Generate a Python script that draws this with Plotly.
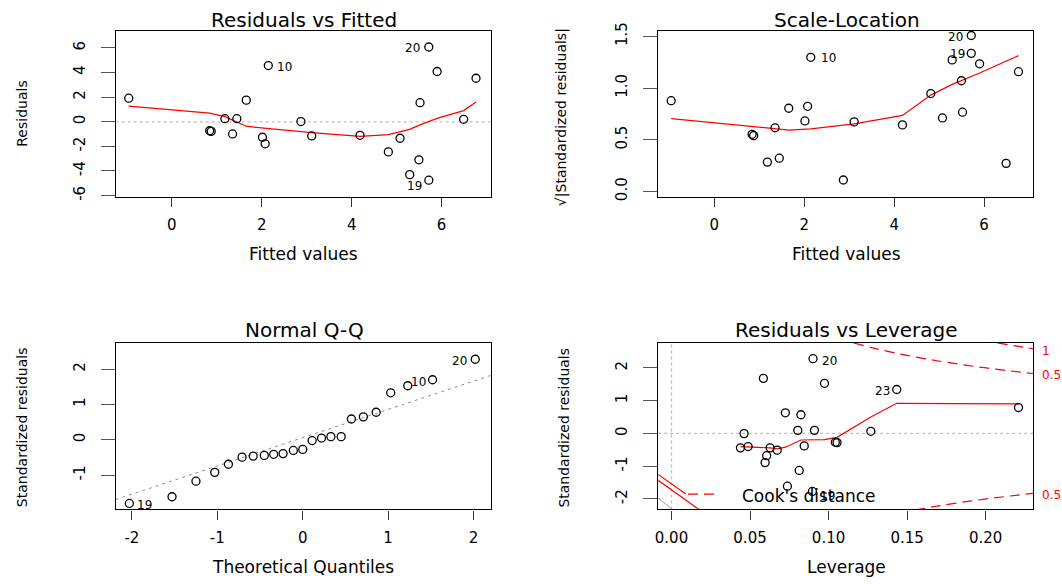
import plotly.graph_objects as go

W, H = 1062, 584
FONT = "DejaVu Sans"

# ---------------- data ----------------
# Residuals vs Fitted / Scale-Location (same observations, same order)
fitted = [-0.96, 2.145, 5.715, 5.90, 6.765, 1.655, 5.52, 1.18, 1.445, 2.87, 6.49, 0.84,
          0.875, 1.35, 2.015, 2.075, 3.11, 4.185, 5.075, 4.815, 5.495, 5.29, 5.715]
residuals = [1.92, 4.57, 6.08, 4.09, 3.54, 1.76, 1.55, 0.25, 0.25, 0.02, 0.20, -0.73,
             -0.78, -0.99, -1.26, -1.79, -1.15, -1.10, -1.34, -2.45, -3.09, -4.30, -4.75]
sqrt_abs_std_resid = [0.878, 1.298, 1.509, 1.235, 1.159, 0.805, 0.767, 0.284, 0.322, 0.111,
                      0.272, 0.553, 0.540, 0.616, 0.682, 0.824, 0.673, 0.644, 0.711, 0.947,
                      1.071, 1.273, 1.336]

rf_smooth_x = [-0.96, 0.84, 1.18, 1.655, 2.045, 3.11, 4.185, 4.815, 5.29, 5.52, 5.90, 6.49, 6.765]
rf_smooth_y = [1.28, 0.70, 0.42, -0.36, -0.52, -0.89, -1.18, -1.05, -0.62, -0.25, 0.28, 0.91, 1.60]

sl_smooth_x = [-0.96, 1.35, 1.655, 2.145, 3.11, 4.185, 4.815, 5.29, 5.52, 5.90, 6.765]
sl_smooth_y = [0.704, 0.603, 0.594, 0.606, 0.654, 0.736, 0.932, 1.036, 1.077, 1.146, 1.314]

# Normal Q-Q
qq_theoretical = [-2.03, -1.53, -1.25, -1.03, -0.87, -0.71, -0.58, -0.45, -0.34, -0.23, -0.11,
                  0.0, 0.11, 0.22, 0.33, 0.45, 0.57, 0.71, 0.86, 1.03, 1.23, 1.52, 2.02]
qq_sample = [-1.80, -1.61, -1.17, -0.92, -0.69, -0.49, -0.46, -0.44, -0.41, -0.39, -0.30,
             -0.27, -0.02, 0.05, 0.09, 0.09, 0.59, 0.65, 0.78, 1.33, 1.53, 1.70, 2.28]
qq_line_x = [-2.19, 2.20]
qq_line_y = [-1.69, 1.82]

# Residuals vs Leverage
leverage = [0.0462, 0.0439, 0.0488, 0.0585, 0.0628, 0.0673, 0.0606, 0.0596, 0.0725, 0.0824,
            0.0804, 0.0910, 0.0845, 0.0813, 0.0738, 0.0901, 0.0974, 0.0897, 0.1043, 0.1054,
            0.1269, 0.1434, 0.2209]
std_resid = [-0.005, -0.44, -0.40, 1.68, -0.44, -0.51, -0.68, -0.89, 0.63, 0.57, 0.094, 0.094,
             -0.38, -1.13, -1.61, 2.28, 1.53, -1.77, -0.27, -0.28, 0.065, 1.34, 0.79]
lev_smooth_x = [0.0439, 0.0488, 0.0628, 0.0673, 0.0725, 0.0824, 0.0974, 0.1054, 0.1269, 0.1434, 0.2209]
lev_smooth_y = [-0.40, -0.41, -0.44, -0.47, -0.42, -0.20, -0.19, -0.12, 0.50, 0.92, 0.90]

cook_h_upper05 = [0.116, 0.13, 0.15, 0.17, 0.19, 0.21, 0.2302]
cook_y_upper05 = [2.761, 2.587, 2.380, 2.210, 2.065, 1.940, 1.829]
cook_h_upper1 = [0.2075, 0.22, 0.2302]
cook_y_upper1 = [2.764, 2.663, 2.587]
cook_h_lower05 = [0.155, 0.17, 0.19, 0.21, 0.2302]
cook_y_lower05 = [-2.335, -2.210, -2.065, -1.940, -1.829]
legend_line_a_x = [-0.0085, 0.0091]
legend_line_a_y = [-1.25, -1.85]
legend_line_b_x = [-0.0085, 0.0175]
legend_line_b_y = [-1.43, -2.32]
legend_gray_x = [-0.0085, 0.0006]
legend_gray_y = [-1.97, -2.32]
legend_dash_x = [0.0105, 0.027]
legend_dash_y = [-1.85, -1.85]

# ranges
rf_xrange = [-1.25, 7.09]
rf_yrange = [-6.12, 7.42]
sl_yrange = [-0.054, 1.557]
qq_xrange = [-2.19, 2.20]
qq_yrange = [-1.97, 2.74]
lev_xrange = [-0.0085, 0.2302]
lev_yrange = [-2.32, 2.76]

# ---------------- layout helpers ----------------
def dx(l, r):
    return [l / W, r / W]

def dy(t, b):
    return [1 - b / H, 1 - t / H]

LEFT1, RIGHT1 = 113, 489
LEFT2, RIGHT2 = 657, 1033
TOP1, BOT1 = 23, 193
TOP2, BOT2 = 342, 512

def xaxis(domain, anchor, rng, tickvals, ticktext):
    return dict(domain=domain, anchor=anchor, range=rng, tickvals=tickvals, ticktext=ticktext,
                showline=True, mirror=True, linecolor="black", linewidth=1.3,
                ticks="outside", ticklen=9, tickwidth=1, tickcolor="#333",
                showgrid=False, zeroline=False, ticklabelstandoff=5,
                tickfont=dict(family=FONT, size=15, color="black"), fixedrange=True)

def yaxis(domain, anchor, rng, tickvals, ticktext):
    return dict(domain=domain, anchor=anchor, range=rng, tickvals=tickvals, ticktext=ticktext,
                showline=True, mirror=True, linecolor="black", linewidth=1.3,
                ticks="outside", ticklen=14, tickwidth=1, tickcolor="#555",
                showgrid=False, zeroline=False, tickangle=-90, ticklabelstandoff=10,
                tickfont=dict(family=FONT, size=15, color="black"), fixedrange=True)

fig = go.Figure()

pt_marker = dict(symbol="circle-open", size=8, color="black", line=dict(width=1.3, color="black"))
red_line = dict(color="#FF0000", width=1.2)

# Panel 1: Residuals vs Fitted
fig.add_trace(go.Scatter(x=rf_smooth_x, y=rf_smooth_y, mode="lines", line=red_line,
                         xaxis="x", yaxis="y", hoverinfo="skip"))
fig.add_trace(go.Scatter(x=fitted, y=residuals, mode="markers", marker=pt_marker,
                         xaxis="x", yaxis="y"))

# Panel 2: Scale-Location
fig.add_trace(go.Scatter(x=sl_smooth_x, y=sl_smooth_y, mode="lines", line=red_line,
                         xaxis="x2", yaxis="y2", hoverinfo="skip"))
fig.add_trace(go.Scatter(x=fitted, y=sqrt_abs_std_resid, mode="markers", marker=pt_marker,
                         xaxis="x2", yaxis="y2"))

# Panel 3: Normal Q-Q
fig.add_trace(go.Scatter(x=qq_line_x, y=qq_line_y, mode="lines",
                         line=dict(color="#8c8c8c", width=1, dash="3px,4px"),
                         xaxis="x3", yaxis="y3", hoverinfo="skip"))
fig.add_trace(go.Scatter(x=qq_theoretical, y=qq_sample, mode="markers", marker=pt_marker,
                         xaxis="x3", yaxis="y3"))

# Panel 4: Residuals vs Leverage
cook_dash = dict(color="#FF0000", width=1.2, dash="10px,6px")
for hx, hy in [(cook_h_upper05, cook_y_upper05), (cook_h_upper1, cook_y_upper1),
               (cook_h_lower05, cook_y_lower05)]:
    fig.add_trace(go.Scatter(x=hx, y=hy, mode="lines", line=dict(cook_dash, shape="spline"),
                             xaxis="x4", yaxis="y4", hoverinfo="skip"))
fig.add_trace(go.Scatter(x=legend_line_a_x, y=legend_line_a_y, mode="lines", line=red_line,
                         xaxis="x4", yaxis="y4", hoverinfo="skip"))
fig.add_trace(go.Scatter(x=legend_line_b_x, y=legend_line_b_y, mode="lines", line=red_line,
                         xaxis="x4", yaxis="y4", hoverinfo="skip"))
fig.add_trace(go.Scatter(x=legend_gray_x, y=legend_gray_y, mode="lines",
                         line=dict(color="#bebebe", width=1.2),
                         xaxis="x4", yaxis="y4", hoverinfo="skip"))
fig.add_trace(go.Scatter(x=legend_dash_x, y=legend_dash_y, mode="lines", line=cook_dash,
                         xaxis="x4", yaxis="y4", hoverinfo="skip"))
fig.add_trace(go.Scatter(x=lev_smooth_x, y=lev_smooth_y, mode="lines", line=red_line,
                         xaxis="x4", yaxis="y4", hoverinfo="skip"))
fig.add_trace(go.Scatter(x=leverage, y=std_resid, mode="markers", marker=pt_marker,
                         xaxis="x4", yaxis="y4"))

gray_dot = dict(color="#bebebe", width=1.3, dash="3px,3px")
shapes = [
    dict(type="line", xref="x domain", yref="y", x0=0, x1=1, y0=0, y1=0, line=gray_dot, layer="below"),
    dict(type="line", xref="x4 domain", yref="y4", x0=0, x1=1, y0=0, y1=0, line=gray_dot, layer="below"),
    dict(type="line", xref="x4", yref="y4 domain", x0=0, x1=0, y0=0, y1=1, line=gray_dot, layer="below"),
]

def ann(text, x, y, size, xref="paper", yref="paper", angle=0, color="black", xanchor="center"):
    return dict(text=text, x=x, y=y, xref=xref, yref=yref, showarrow=False, textangle=angle,
                xanchor=xanchor, yanchor="middle", font=dict(family=FONT, size=size, color=color))

annotations = [
    # panel titles
    ann("Residuals vs Fitted", 302 / W, 1 - 12 / H, 20),
    ann("Scale-Location", 846 / W, 1 - 12 / H, 20),
    ann("Normal Q-Q", 302 / W, 1 - 329 / H, 20),
    ann("Residuals vs Leverage", 846 / W, 1 - 329 / H, 20),
    # x axis titles
    ann("Fitted values", 301 / W, 1 - 251 / H, 17),
    ann("Fitted values", 846 / W, 1 - 251 / H, 17),
    ann("Theoretical Quantiles", 301 / W, 1 - 571 / H, 17),
    ann("Leverage", 846 / W, 1 - 571 / H, 17),
    # y axis titles
    ann("Residuals", 19 / W, 1 - 108 / H, 14, angle=-90),
    ann("√|Standardized residuals|", 560 / W, 1 - 111 / H, 14, angle=-90),
    ann("Standardized residuals", 19 / W, 1 - 428 / H, 14, angle=-90),
    ann("Standardized residuals", 563 / W, 1 - 428 / H, 14, angle=-90),
    # point labels
    ann("10", 2.50, 4.46, 12, "x", "y"),
    ann("20", 5.36, 6.00, 12, "x", "y"),
    ann("19", 5.39, -5.20, 12, "x", "y"),
    ann("10", 2.545, 1.288, 12, "x2", "y2"),
    ann("20", 5.36, 1.494, 12, "x2", "y2"),
    ann("19", 5.40, 1.326, 12, "x2", "y2"),
    ann("19", -1.85, -1.83, 12, "x3", "y3"),
    ann("10", 1.356, 1.648, 12, "x3", "y3"),
    ann("20", 1.838, 2.23, 12, "x3", "y3"),
    ann("20", 0.1004, 2.218, 12, "x4", "y4"),
    ann("23", 0.1342, 1.305, 12, "x4", "y4"),
    ann("Cook's distance", 0.0437, -1.92, 17, "x4", "y4", xanchor="left"),
    ann("19", 0.0994, -1.92, 12, "x4", "y4"),
    # Cook's distance contour labels
    ann("1", 1040 / W, 2.50, 12, "paper", "y4", color="#FF0000", xanchor="left"),
    ann("0.5", 1040 / W, 1.78, 12, "paper", "y4", color="#FF0000", xanchor="left"),
    ann("0.5", 1040 / W, -1.87, 12, "paper", "y4", color="#FF0000", xanchor="left"),
]

fig.update_layout(
    width=W, height=H, margin=dict(l=0, r=0, t=0, b=0),
    paper_bgcolor="white", plot_bgcolor="white", showlegend=False,
    font=dict(family=FONT, color="black"),
    xaxis=xaxis(dx(LEFT1, RIGHT1), "y", rf_xrange, [0, 2, 4, 6], ["0", "2", "4", "6"]),
    yaxis=yaxis(dy(TOP1, BOT1), "x", rf_yrange, [-6, -4, -2, 0, 2, 4, 6],
                ["-6", "-4", "-2", "0", "2", "4", "6"]),
    xaxis2=xaxis(dx(LEFT2, RIGHT2), "y2", rf_xrange, [0, 2, 4, 6], ["0", "2", "4", "6"]),
    yaxis2=yaxis(dy(TOP1, BOT1), "x2", sl_yrange, [0, 0.5, 1.0, 1.5], ["0.0", "0.5", "1.0", "1.5"]),
    xaxis3=xaxis(dx(LEFT1, RIGHT1), "y3", qq_xrange, [-2, -1, 0, 1, 2], ["-2", "-1", "0", "1", "2"]),
    yaxis3=yaxis(dy(TOP2, BOT2), "x3", qq_yrange, [-1, 0, 1, 2], ["-1", "0", "1", "2"]),
    xaxis4=xaxis(dx(LEFT2, RIGHT2), "y4", lev_xrange, [0, 0.05, 0.10, 0.15, 0.20],
                 ["0.00", "0.05", "0.10", "0.15", "0.20"]),
    yaxis4=yaxis(dy(TOP2, BOT2), "x4", lev_yrange, [-2, -1, 0, 1, 2], ["-2", "-1", "0", "1", "2"]),
    shapes=shapes,
    annotations=annotations,
)

fig.write_html("out.html", config={"displayModeBar": False},
               post_script="document.body.style.margin='0';document.body.style.overflow='hidden';")
